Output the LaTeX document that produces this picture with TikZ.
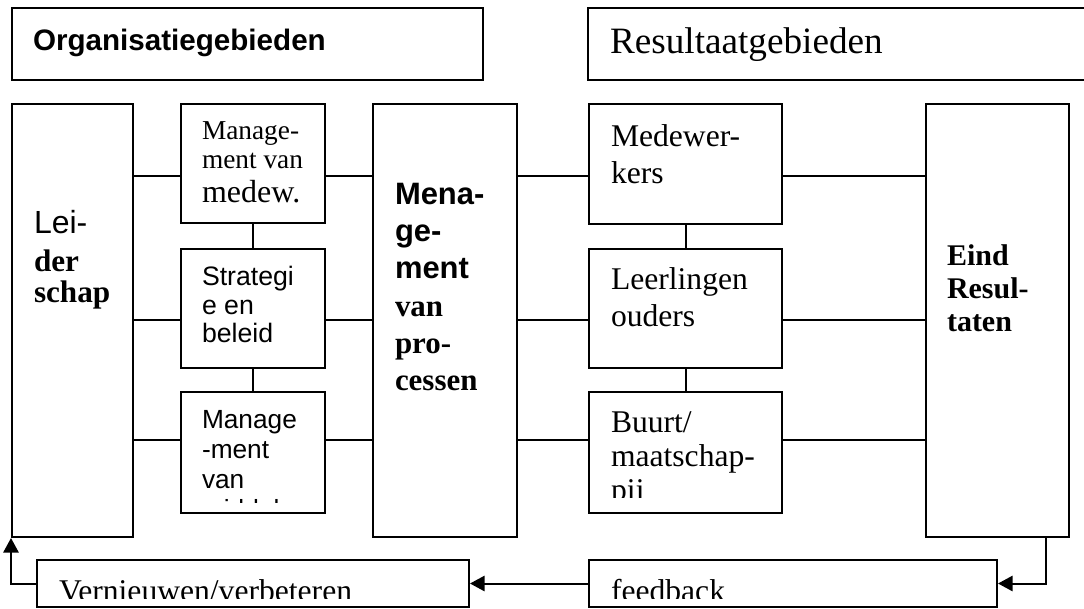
\documentclass[tikz,border=0pt]{standalone}
\usepackage{fontspec}
\setmainfont{Liberation Serif}
\newfontfamily\arialfont{Liberation Sans}
\usetikzlibrary{arrows.meta,fit}

\tikzset{every picture/.style={line width=1.5pt}}
\tikzset{
  vak/.style={draw, rectangle, inner sep=0pt},
  pijl/.style={-{Triangle[length=11pt,width=11.5pt]}},
  tekst/.style={anchor=north west, inner sep=0pt, align=left},
  regel/.style={anchor=base west, inner sep=0pt}
}
\newcommand{\tnr}[2]{\fontsize{#1}{#2}\selectfont}
\newcommand{\ari}[2]{\arialfont\fontsize{#1}{#2}\selectfont}

\begin{document}
\begin{tikzpicture}[x=0.75pt,y=0.75pt,yscale=-1]
\useasboundingbox (0,0) rectangle (1084,608);
\clip (0,0) rectangle (1084,608);

% kopjes
\node [vak, fit={(12,8) (483,80)}] (orgkop) {};
\node [vak, fit={(588,8) (1100,80)}] (reskop) {};
\node [regel, font=\ari{22.2}{26}\bfseries] (orgtxt) at (32,50) {Organisatiegebieden};
\node [regel, font=\tnr{27.9}{32}] (restxt) at (609,53) {Resultaatgebieden};

% organisatiegebieden
\node [vak, fit={(12,104) (133,537)}] (leid) {};
\node [vak, fit={(181,104) (325,223)}] (medew) {};
\node [vak, fit={(181,249) (325,368)}] (strat) {};
\node [vak, fit={(181,392) (325,513)}] (midd) {};
\node [vak, fit={(373,104) (517,537)}] (proc) {};
% resultaatgebieden
\node [vak, fit={(589,104) (782,224)}] (mdw) {};
\node [vak, fit={(589,249) (782,368)}] (llo) {};
\node [vak, fit={(589,392) (782,513)}] (buurt) {};
\node [vak, fit={(926,104) (1069,537)}] (eind) {};
% terugkoppeling
\node [vak, fit={(37,560) (469,607)}] (vern) {};
\node [vak, fit={(589,560) (997,607)}] (fb) {};

% verbindingen
\coordinate (rij1) at (0,176);
\coordinate (rij2) at (0,320);
\coordinate (rij3) at (0,440);
\foreach \r/\a/\b in {rij1/medew/mdw, rij2/strat/llo, rij3/midd/buurt} {
  \draw (leid.east |- \r) -- (\a.west |- \r);
  \draw (\a.east |- \r) -- (proc.west |- \r);
  \draw (proc.east |- \r) -- (\b.west |- \r);
  \draw (\b.east |- \r) -- (eind.west |- \r);
}
\draw (medew) -- (strat) (strat) -- (midd);
\draw (mdw) -- (llo) (llo) -- (buurt);

% terugkoppeling pijlen
\draw [pijl] ([xshift=-18pt]eind.south east) |- (fb.east);
\draw [pijl] (fb) -- (vern);
\draw [pijl] (vern.west) -| (leid.south west);

% teksten
\node [tekst, font=\tnr{23.4}{28.5}\bfseries] (leidtxt) at (33,209)
  {{\arialfont\mdseries\fontsize{24}{28.5}\selectfont Lei-}\\der\\[-5pt]schap};
\node [tekst, font=\tnr{20.5}{21.75}] (medewtxt) at (201,121) {Manage-\\ment van};
\node [regel, font=\tnr{24}{28}] (medewtxt2) at (201,202) {medew.};
\node [tekst, font=\ari{20}{21.4}] (strattxt) at (201,265.5) {Strategi\\e en\\beleid};
\node [tekst, font=\tnr{23.2}{28}\bfseries] (proctxt) at (394,181.8)
  {{\arialfont Mena-}\\{\arialfont ge-}\\{\arialfont ment}\\van\\pro-\\cessen};
\node [tekst, font=\tnr{23.7}{27.75}] (mdwtxt) at (610,123.4) {Medewer-\\kers};
\node [tekst, font=\tnr{23.7}{27.75}] (llotxt) at (610,266.4) {Leerlingen\\ouders};
\node [tekst, font=\tnr{22.5}{24.75}\bfseries] (eindtxt) at (946,243.7) {Eind\\Resul-\\taten};

\begin{scope}
  \clip (181,392) rectangle (325,502);
  \node [tekst, font=\ari{19.7}{22.5}] (middtxt) at (201,409.2) {Manage\\-ment\\van\\middelen};
\end{scope}
\begin{scope}
  \clip (589,392) rectangle (782,497);
  \node [tekst, font=\tnr{23.7}{25.5}] (buurttxt) at (610,410.4) {Buurt/\\maatschap-\\pij};
\end{scope}
\begin{scope}
  \clip (0,560) rectangle (1084,598);
  \node [regel, font=\tnr{23.7}{27.75}] (verntxt) at (58,601) {Vernieuwen/verbeteren};
  \node [regel, font=\tnr{23.7}{27.75}] (fbtxt) at (610,601) {feedback};
\end{scope}

\end{tikzpicture}
\end{document}
